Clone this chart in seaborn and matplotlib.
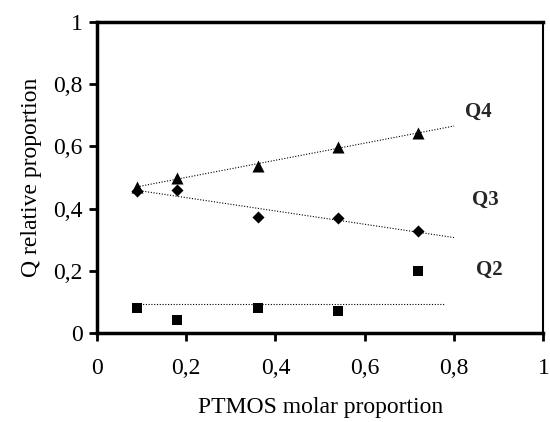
#!/usr/bin/env python3
# -*- coding: utf-8 -*-
"""Q relative proportion against PTMOS molar proportion."""

import numpy as np
import pandas as pd
import seaborn as sns
import matplotlib.pyplot as plt
from matplotlib.ticker import FuncFormatter

# %% Data

ary_x = [0.09, 0.18, 0.36, 0.54, 0.72]
lst_q4 = [0.470, 0.498, 0.537, 0.598, 0.643]
lst_q3 = [0.455, 0.460, 0.373, 0.369, 0.328]
lst_q2 = [0.080, 0.042, 0.080, 0.070, 0.200]
lst_series = ['Q4', 'Q3', 'Q2']

# x range of the dotted trend lines
lst_fit_rng = [0.09, 0.80]

# %% Build data frame

df = pd.DataFrame({
    'x': ary_x * 3,
    'y': lst_q4 + lst_q3 + lst_q2,
    'series': [s for s in lst_series for _ in ary_x]})

# marker and size per series
dct_mrk = {'Q4': '^', 'Q3': 'D', 'Q2': 's'}
dct_size = {'Q4': 75, 'Q3': 38, 'Q2': 60}
dct_lbl = {'Q4': (0.825, 0.71), 'Q3': (0.84, 0.428), 'Q2': (0.85, 0.203)}

# %% Plot

sns.set_theme(style='white')
plt.rcParams['font.family'] = ['Liberation Serif', 'DejaVu Serif']

fig = plt.figure(figsize=(5.5, 4.22), dpi=100)
ax = fig.add_axes([0.176, 0.211, 0.812, 0.737])

for ser in lst_series:
    sns.scatterplot(data=df[df['series'] == ser], x='x', y='y',
                    marker=dct_mrk[ser], color='black', s=dct_size[ser],
                    linewidth=0, legend=False, ax=ax)

# trend lines: linear fit for Q4 and Q3, mean level for Q2
for ser, vals in zip(lst_series, [lst_q4, lst_q3, lst_q2]):
    if ser == 'Q2':
        ary_lx = np.array([0.09, 0.78])
        ary_fy = np.full(2, np.mean(vals))
    else:
        coef = np.polyfit(ary_x, vals, 1)
        ary_lx = np.array(lst_fit_rng)
        ary_fy = np.polyval(coef, ary_lx)
    sns.lineplot(x=ary_lx, y=ary_fy, color='black', linestyle=(0, (1, 1.5)),
                 linewidth=0.8, ax=ax)

# series labels
for ser in lst_series:
    ax.text(dct_lbl[ser][0], dct_lbl[ser][1], ser, fontsize=15,
            fontweight='bold', ha='left', va='center')

ax.set_xlim(0, 1)
ax.set_ylim(0, 1)
ax.set_xticks([0, 0.2, 0.4, 0.6, 0.8, 1])
ax.set_yticks([0, 0.2, 0.4, 0.6, 0.8, 1])
fmt = FuncFormatter(lambda v, p: ('%g' % round(v, 2)).replace('.', ','))
ax.xaxis.set_major_formatter(fmt)
ax.yaxis.set_major_formatter(fmt)
ax.tick_params(axis='both', which='major', direction='out', length=6,
               width=2, color='black', labelsize=17, labelcolor='black',
               bottom=True, left=True, pad=4)
ax.tick_params(axis='x', pad=12)

for side in ['left', 'bottom', 'top']:
    ax.spines[side].set_linewidth(2.5)
    ax.spines[side].set_color('black')
ax.spines['right'].set_linewidth(1.5)
ax.spines['right'].set_color('black')

ax.set_xlabel('PTMOS molar proportion', fontsize=17, color='black',
              labelpad=13)
ax.set_ylabel('Q relative proportion', fontsize=17, color='black',
              labelpad=8)

fig.savefig('out.png', dpi=100)
